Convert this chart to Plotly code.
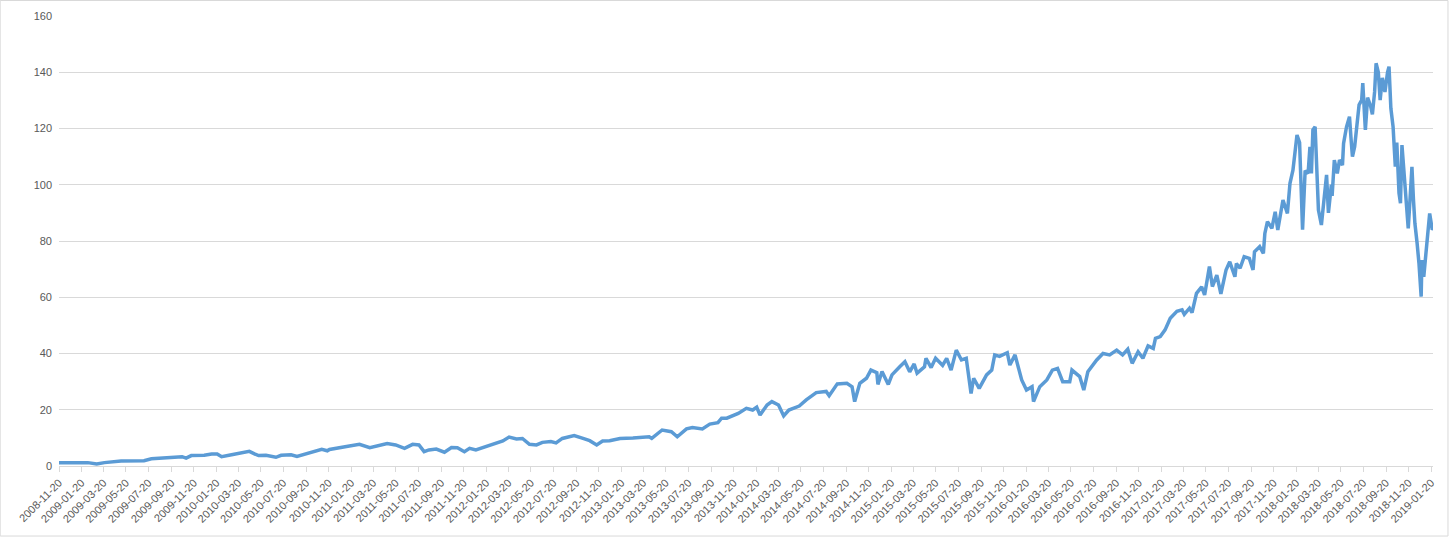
import plotly.graph_objects as go

dates = [
    "2008-11-20", "2009-01-02", "2009-02-06", "2009-03-02", "2009-03-23", "2009-05-07", "2009-06-11",
    "2009-07-08", "2009-07-28", "2009-09-09", "2009-10-19", "2009-10-30", "2009-11-13", "2009-12-18",
    "2010-01-07", "2010-01-22", "2010-02-03", "2010-03-02", "2010-03-29", "2010-04-19", "2010-05-03",
    "2010-05-14", "2010-06-03", "2010-06-30", "2010-07-14", "2010-08-10", "2010-08-26", "2010-09-23",
    "2010-11-01", "2010-11-16", "2010-11-22", "2011-01-07", "2011-02-11", "2011-03-11", "2011-04-05",
    "2011-04-27", "2011-05-20", "2011-06-13", "2011-07-05", "2011-07-22", "2011-08-05", "2011-08-18",
    "2011-09-07", "2011-09-29", "2011-10-18", "2011-11-03", "2011-11-22", "2011-12-06", "2011-12-23",
    "2012-01-20", "2012-02-17", "2012-03-05", "2012-03-22", "2012-04-11", "2012-04-27", "2012-05-16",
    "2012-06-04", "2012-06-20", "2012-07-13", "2012-07-27", "2012-08-13", "2012-09-14", "2012-10-08",
    "2012-10-26", "2012-11-14", "2012-11-30", "2012-12-19", "2013-01-16", "2013-02-20", "2013-04-05",
    "2013-04-12", "2013-05-10", "2013-06-04", "2013-06-20", "2013-07-15", "2013-07-31", "2013-08-27",
    "2013-09-16", "2013-10-08", "2013-10-18", "2013-11-01", "2013-11-18", "2013-12-02", "2013-12-24",
    "2014-01-10", "2014-01-21", "2014-01-30", "2014-02-18", "2014-03-03", "2014-03-21", "2014-04-04",
    "2014-04-18", "2014-05-16", "2014-06-04", "2014-07-01", "2014-07-28", "2014-08-05", "2014-08-27",
    "2014-09-22", "2014-10-06", "2014-10-13", "2014-10-27", "2014-11-14", "2014-11-26", "2014-12-12",
    "2014-12-15", "2014-12-26", "2015-01-12", "2015-01-22", "2015-02-12", "2015-02-26", "2015-03-11",
    "2015-03-23", "2015-03-31", "2015-04-20", "2015-04-24", "2015-05-08", "2015-05-20", "2015-06-08",
    "2015-06-19", "2015-07-01", "2015-07-15", "2015-07-29", "2015-08-11", "2015-08-24", "2015-08-31",
    "2015-09-15", "2015-10-05", "2015-10-19", "2015-10-27", "2015-11-09", "2015-11-30", "2015-12-07",
    "2015-12-21", "2015-12-29", "2016-01-08", "2016-01-21", "2016-02-05", "2016-02-09", "2016-02-26",
    "2016-03-16", "2016-03-31", "2016-04-14", "2016-04-28", "2016-05-17", "2016-05-23", "2016-06-13",
    "2016-06-24", "2016-07-05", "2016-07-29", "2016-08-15", "2016-09-02", "2016-09-21", "2016-10-07",
    "2016-10-21", "2016-11-02", "2016-11-18", "2016-12-01", "2016-12-15", "2016-12-29", "2017-01-04",
    "2017-01-17", "2017-01-30", "2017-02-13", "2017-03-03", "2017-03-17", "2017-03-23", "2017-04-06",
    "2017-04-13", "2017-04-25", "2017-05-09", "2017-05-17", "2017-05-30", "2017-06-07", "2017-06-19",
    "2017-06-30", "2017-07-14", "2017-07-24", "2017-08-07", "2017-08-11", "2017-08-21", "2017-09-01",
    "2017-09-15", "2017-09-25", "2017-09-29", "2017-10-13", "2017-10-23", "2017-10-27", "2017-11-03",
    "2017-11-15", "2017-11-24", "2017-12-01", "2017-12-15", "2017-12-27", "2018-01-03", "2018-01-11",
    "2018-01-22", "2018-01-29", "2018-02-06", "2018-02-13", "2018-02-21", "2018-02-26", "2018-03-02",
    "2018-03-06", "2018-03-12", "2018-03-16", "2018-03-19", "2018-03-21", "2018-03-29", "2018-04-06",
    "2018-04-12", "2018-04-17", "2018-04-25", "2018-04-27", "2018-05-03", "2018-05-11", "2018-05-17",
    "2018-05-25", "2018-05-28", "2018-06-05", "2018-06-13", "2018-06-18", "2018-06-21", "2018-06-27",
    "2018-07-02", "2018-07-09", "2018-07-16", "2018-07-19", "2018-07-26", "2018-08-01", "2018-08-09",
    "2018-08-14", "2018-08-20", "2018-08-24", "2018-08-30", "2018-09-04", "2018-09-10", "2018-09-17",
    "2018-09-24", "2018-09-28", "2018-10-03", "2018-10-09", "2018-10-15", "2018-10-19", "2018-10-25",
    "2018-10-29", "2018-11-02", "2018-11-06", "2018-11-13", "2018-11-19", "2018-11-23", "2018-11-29",
    "2018-12-03", "2018-12-07", "2018-12-13", "2018-12-18", "2018-12-24", "2018-12-26", "2018-12-31",
    "2019-01-07", "2019-01-11", "2019-01-16", "2019-01-23", "2019-01-25",
]

prices = [
    1.2, 1.3, 1.2, 0.7, 1.2, 1.8, 2.0,
    1.9, 2.6, 2.9, 3.3, 2.8, 3.7, 3.8,
    4.3, 4.3, 3.3, 4.0, 4.6, 5.2, 4.3,
    3.7, 3.8, 3.1, 3.8, 4.0, 3.4, 4.5,
    5.9, 5.4, 5.9, 6.9, 7.7, 6.5, 7.3,
    8.0, 7.5, 6.3, 7.7, 7.5, 5.1, 5.7,
    6.0, 4.9, 6.6, 6.5, 5.1, 6.3, 5.7,
    6.9, 8.4, 8.9, 10.3, 9.6, 9.8, 7.7,
    7.5, 8.4, 8.7, 8.2, 9.8, 10.8, 9.8,
    9.0, 7.5, 8.9, 9.0, 9.8, 10.0, 10.4,
    9.8, 12.8, 12.2, 10.4, 13.2, 13.7, 13.2,
    14.9, 15.4, 17.0, 17.0, 17.8, 18.7, 20.5,
    19.9, 20.9, 18.1, 21.7, 22.9, 21.7, 17.8,
    19.9, 21.3, 23.5, 26.1, 26.5, 25.0, 29.2,
    29.4, 28.2, 22.9, 29.4, 31.2, 34.1, 33.2,
    29.0, 33.6, 29.0, 32.4, 35.3, 37.1, 33.5,
    36.3, 33.0, 35.3, 38.3, 35.0, 38.3, 35.8,
    38.3, 34.1, 41.2, 37.7, 38.3, 25.8, 31.2,
    27.6, 32.4, 34.1, 39.5, 39.0, 40.3, 35.9,
    39.5, 35.3, 30.6, 27.0, 28.2, 22.9, 28.2,
    30.6, 34.1, 34.7, 30.0, 30.0, 34.1, 31.8,
    27.0, 33.5, 37.7, 40.0, 39.5, 41.2, 39.5,
    41.5, 36.5, 40.6, 38.3, 42.7, 41.8, 45.4,
    46.0, 48.4, 52.5, 55.0, 55.5, 53.9, 56.1,
    54.5, 61.4, 63.7, 60.8, 70.9, 63.8, 67.9,
    61.2, 69.7, 72.6, 67.3, 72.0, 70.3, 74.4,
    73.8, 69.7, 76.2, 78.0, 75.6, 82.7, 86.9,
    84.5, 90.4, 83.9, 94.6, 89.8, 100.5, 105.2,
    117.7, 115.0, 84.0, 105.0, 104.0, 113.5, 104.0,
    119.5, 120.6, 110.0, 101.7, 91.0, 85.7, 95.8,
    103.5, 90.0, 100.0, 96.0, 108.8, 104.0, 108.8,
    107.0, 114.7, 120.6, 124.2, 115.0, 110.0, 113.5,
    120.6, 128.4, 130.1, 136.1, 119.5, 131.0, 128.0,
    125.0, 133.0, 143.2, 140.0, 130.1, 138.0, 133.0,
    140.0, 142.0, 127.2, 120.6, 106.4, 115.0, 97.0,
    93.4, 114.1, 107.0, 98.1, 84.5, 93.0, 106.4,
    95.0, 86.3, 79.2, 72.1, 60.2, 73.2, 67.3,
    77.0, 85.1, 89.8, 84.0, 84.5,
]

tick_dates = [
    "2008-11-20", "2009-01-20", "2009-03-20", "2009-05-20", "2009-07-20", "2009-09-20",
    "2009-11-20", "2010-01-20", "2010-03-20", "2010-05-20", "2010-07-20", "2010-09-20",
    "2010-11-20", "2011-01-20", "2011-03-20", "2011-05-20", "2011-07-20", "2011-09-20",
    "2011-11-20", "2012-01-20", "2012-03-20", "2012-05-20", "2012-07-20", "2012-09-20",
    "2012-11-20", "2013-01-20", "2013-03-20", "2013-05-20", "2013-07-20", "2013-09-20",
    "2013-11-20", "2014-01-20", "2014-03-20", "2014-05-20", "2014-07-20", "2014-09-20",
    "2014-11-20", "2015-01-20", "2015-03-20", "2015-05-20", "2015-07-20", "2015-09-20",
    "2015-11-20", "2016-01-20", "2016-03-20", "2016-05-20", "2016-07-20", "2016-09-20",
    "2016-11-20", "2017-01-20", "2017-03-20", "2017-05-20", "2017-07-20", "2017-09-20",
    "2017-11-20", "2018-01-20", "2018-03-20", "2018-05-20", "2018-07-20", "2018-09-20",
    "2018-11-20", "2019-01-20",
]

y_ticks = [0, 20, 40, 60, 80, 100, 120, 140, 160]

LINE = "#5B9BD5"
GRID = "#D9D9D9"
TXT = "#595959"
FONT = "Liberation Sans"

fig = go.Figure()
fig.add_trace(go.Scatter(
    x=dates, y=prices, mode="lines",
    line=dict(color=LINE, width=3.5),
    showlegend=False,
))

fig.update_layout(
    width=1449, height=537,
    margin=dict(l=59, r=16, t=16, b=71),
    paper_bgcolor="white", plot_bgcolor="white",
    font=dict(family=FONT, color=TXT, size=11),
    showlegend=False,
    shapes=[dict(
        type="rect", xref="paper", yref="paper",
        x0=-0.0428, x1=1.0109, y0=-0.1556, y1=1.0344,
        line=dict(color=GRID, width=1), fillcolor="rgba(0,0,0,0)", layer="below",
    )],
)

fig.update_xaxes(
    type="date",
    range=["2008-11-20", "2019-01-25"],
    tickmode="array", tickvals=tick_dates, ticktext=tick_dates,
    tickangle=-45,
    tickfont=dict(family=FONT, color=TXT, size=11),
    showgrid=False, zeroline=False,
    showline=True, linecolor=GRID, linewidth=1,
    ticks="outside", ticklen=5, tickcolor=GRID, tickwidth=1,
    automargin=False,
)

fig.update_yaxes(
    range=[0, 160],
    tickmode="array", tickvals=y_ticks, ticktext=[str(v) for v in y_ticks],
    tickfont=dict(family=FONT, color=TXT, size=11),
    showgrid=True, gridcolor=GRID, gridwidth=1,
    zeroline=False, showline=False, ticks="",
    ticklabelstandoff=6,
    automargin=False,
)

fig.write_html(
    "out.html",
    config={"displayModeBar": False},
    post_script="document.body.style.margin='0';document.body.style.overflow='hidden';",
)
